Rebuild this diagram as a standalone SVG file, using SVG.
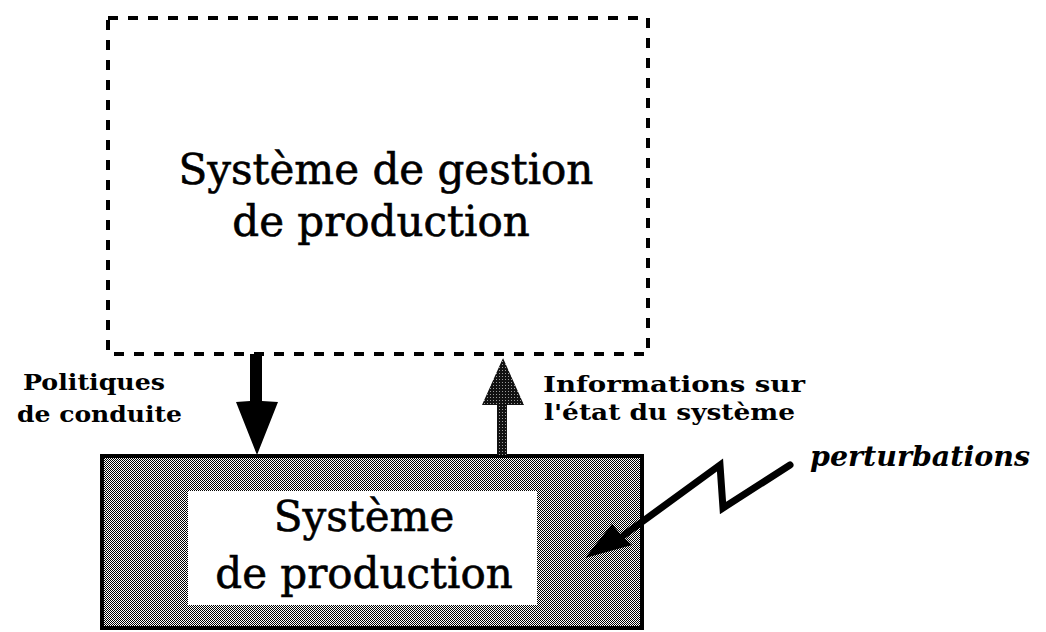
<svg xmlns="http://www.w3.org/2000/svg" width="1046" height="632" viewBox="0 0 1046 632">
<defs>
<pattern id="checker" width="2" height="2" patternUnits="userSpaceOnUse">
<rect width="2" height="2" fill="#ffffff"/>
<rect width="1" height="1" fill="#000000"/>
<rect x="1" y="1" width="1" height="1" fill="#000000"/>
</pattern>
<pattern id="stipple" width="3" height="3" patternUnits="userSpaceOnUse">
<rect width="3" height="3" fill="#111111"/>
<rect x="1" y="1" width="1" height="1" fill="#9a9a9a"/>
</pattern>
<style>
.big{font-family:"DejaVu Serif","Liberation Serif",serif;font-size:42px;fill:#000;stroke:#000;stroke-width:0.6;text-anchor:middle}
.lbl{font-family:"DejaVu Serif","Liberation Serif",serif;font-size:22px;font-weight:bold;fill:#000}
.it{font-family:"DejaVu Serif","Liberation Serif",serif;font-size:28px;font-weight:bold;font-style:italic;fill:#000}
</style>
</defs>
<rect width="1046" height="632" fill="#ffffff"/>
<g id="gestion">
<rect x="108" y="18" width="540" height="336" fill="none" stroke="#000" stroke-width="4" stroke-dasharray="10,10"/>
<text class="big" x="386" y="184">Système de gestion</text>
<text class="big" x="381" y="236">de production</text>
</g>
<g id="production">
<rect x="102" y="456" width="540" height="172" fill="url(#checker)" stroke="#000" stroke-width="4"/>
<rect x="188" y="491" width="349" height="114" fill="#ffffff"/>
<text class="big" x="364" y="531">Système</text>
<text class="big" x="364" y="588">de production</text>
</g>
<g id="connectors">
<polygon points="250,354 262,354 262,401 278,402 257,455 236,402 250,401" fill="#000"/>
<polygon points="497,455 507,455 507,405 524,405 503,358 482,405 497,405" fill="url(#stipple)"/>
<g id="perturbation-arrow">
<polyline points="790,465 723,508 720,465 624,535" fill="none" stroke="#000" stroke-width="7" stroke-linejoin="miter" stroke-linecap="round"/>
<polygon points="585,558 612,524 622,536 632,545" fill="#000"/>
</g>
</g>
<g id="labels">
<text class="lbl" x="23" y="390" textLength="142" lengthAdjust="spacingAndGlyphs">Politiques</text>
<text class="lbl" x="17" y="422" textLength="165" lengthAdjust="spacingAndGlyphs">de conduite</text>
<text class="lbl" x="543" y="392" textLength="262" lengthAdjust="spacingAndGlyphs">Informations sur</text>
<text class="lbl" x="544" y="420" textLength="251" lengthAdjust="spacingAndGlyphs">l'état du système</text>
<text class="it" x="810" y="466" textLength="220" lengthAdjust="spacingAndGlyphs">perturbations</text>
</g>
</svg>
